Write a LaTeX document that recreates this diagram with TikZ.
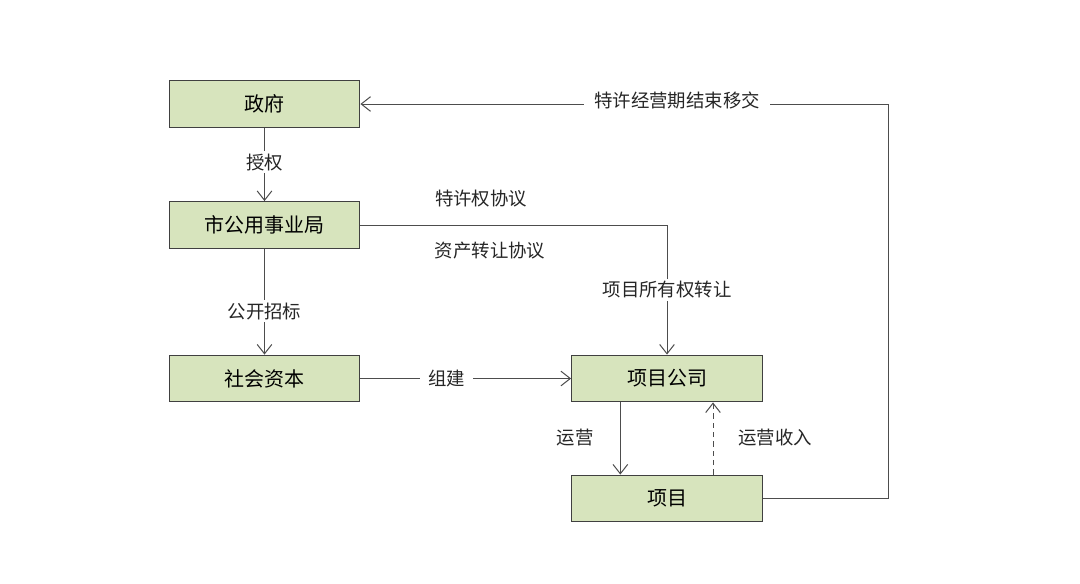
\documentclass[tikz,border=0pt]{standalone}
\usepackage{fontspec}
\setmainfont{Noto Sans CJK SC}
\usetikzlibrary{arrows.meta}
\definecolor{boxfill}{HTML}{D7E4BD}
\definecolor{boxline}{HTML}{404040}
\definecolor{conn}{HTML}{4D4D4D}
\begin{document}
\begin{tikzpicture}[x=0.75pt,y=-0.75pt,
  box/.style={draw=boxline,fill=boxfill,line width=0.9pt,minimum width=143pt,minimum height=35pt,inner sep=0pt,font=\fontsize{15}{17}\selectfont},
  link/.style={draw=conn,line width=0.75pt,-{Straight Barb[length=7pt,width=11pt]}},
  lbl/.style={fill=white,inner sep=2pt,font=\fontsize{13.8}{15}\selectfont,text=black!85}]
\useasboundingbox (0,0) rectangle (1080,583);
\fill[white] (0,0) rectangle (1080,583);
\node[box] (gov) at (264.5,104) {政府};
\node[box] (bur) at (264.5,225) {市公用事业局};
\node[box] (cap) at (264.5,378.5) {社会资本};
\node[box] (com) at (667,378.5) {项目公司};
\node[box] (prj) at (667,498.5) {项目};
\coordinate (c1) at (667,225);
\coordinate (c2) at (888,498.5);
\coordinate (c3) at (888,104);
% 授权
\draw[link] (gov) -- (bur) node[lbl,pos=0.47] {授权};
% 公开招标
\draw[link] (bur) -- (cap) node[lbl,pos=0.59] {公开招标};
% 组建
\draw[link] (cap) -- (com) node[lbl,pos=0.41,inner xsep=6pt] {组建};
% agreements
\draw[link] (bur.east) -- (c1) -- (com.north);
\node[lbl] (t1) at (481,199) {特许权协议};
\node[lbl] (t2) at (490,251) {资产转让协议};
\node[lbl] (t3) at (667,290) {项目所有权转让};
% 运营
\draw[link] ([xshift=-35pt]com.south) -- ([xshift=-35pt]prj.north);
\node[lbl] (t4) at (575,438) {运营};
\draw[link,dashed,dash pattern=on 4pt off 3pt] ([xshift=34.5pt]prj.north) -- ([xshift=34.5pt]com.south);
\node[lbl] (t5) at (775,438) {运营收入};
% 移交
\draw[link] (prj.east) -- (c2) -- (c3) -- (gov.east);
\node[lbl,inner xsep=8pt] (t6) at (677,100) {特许经营期结束移交};
\end{tikzpicture}
\end{document}
